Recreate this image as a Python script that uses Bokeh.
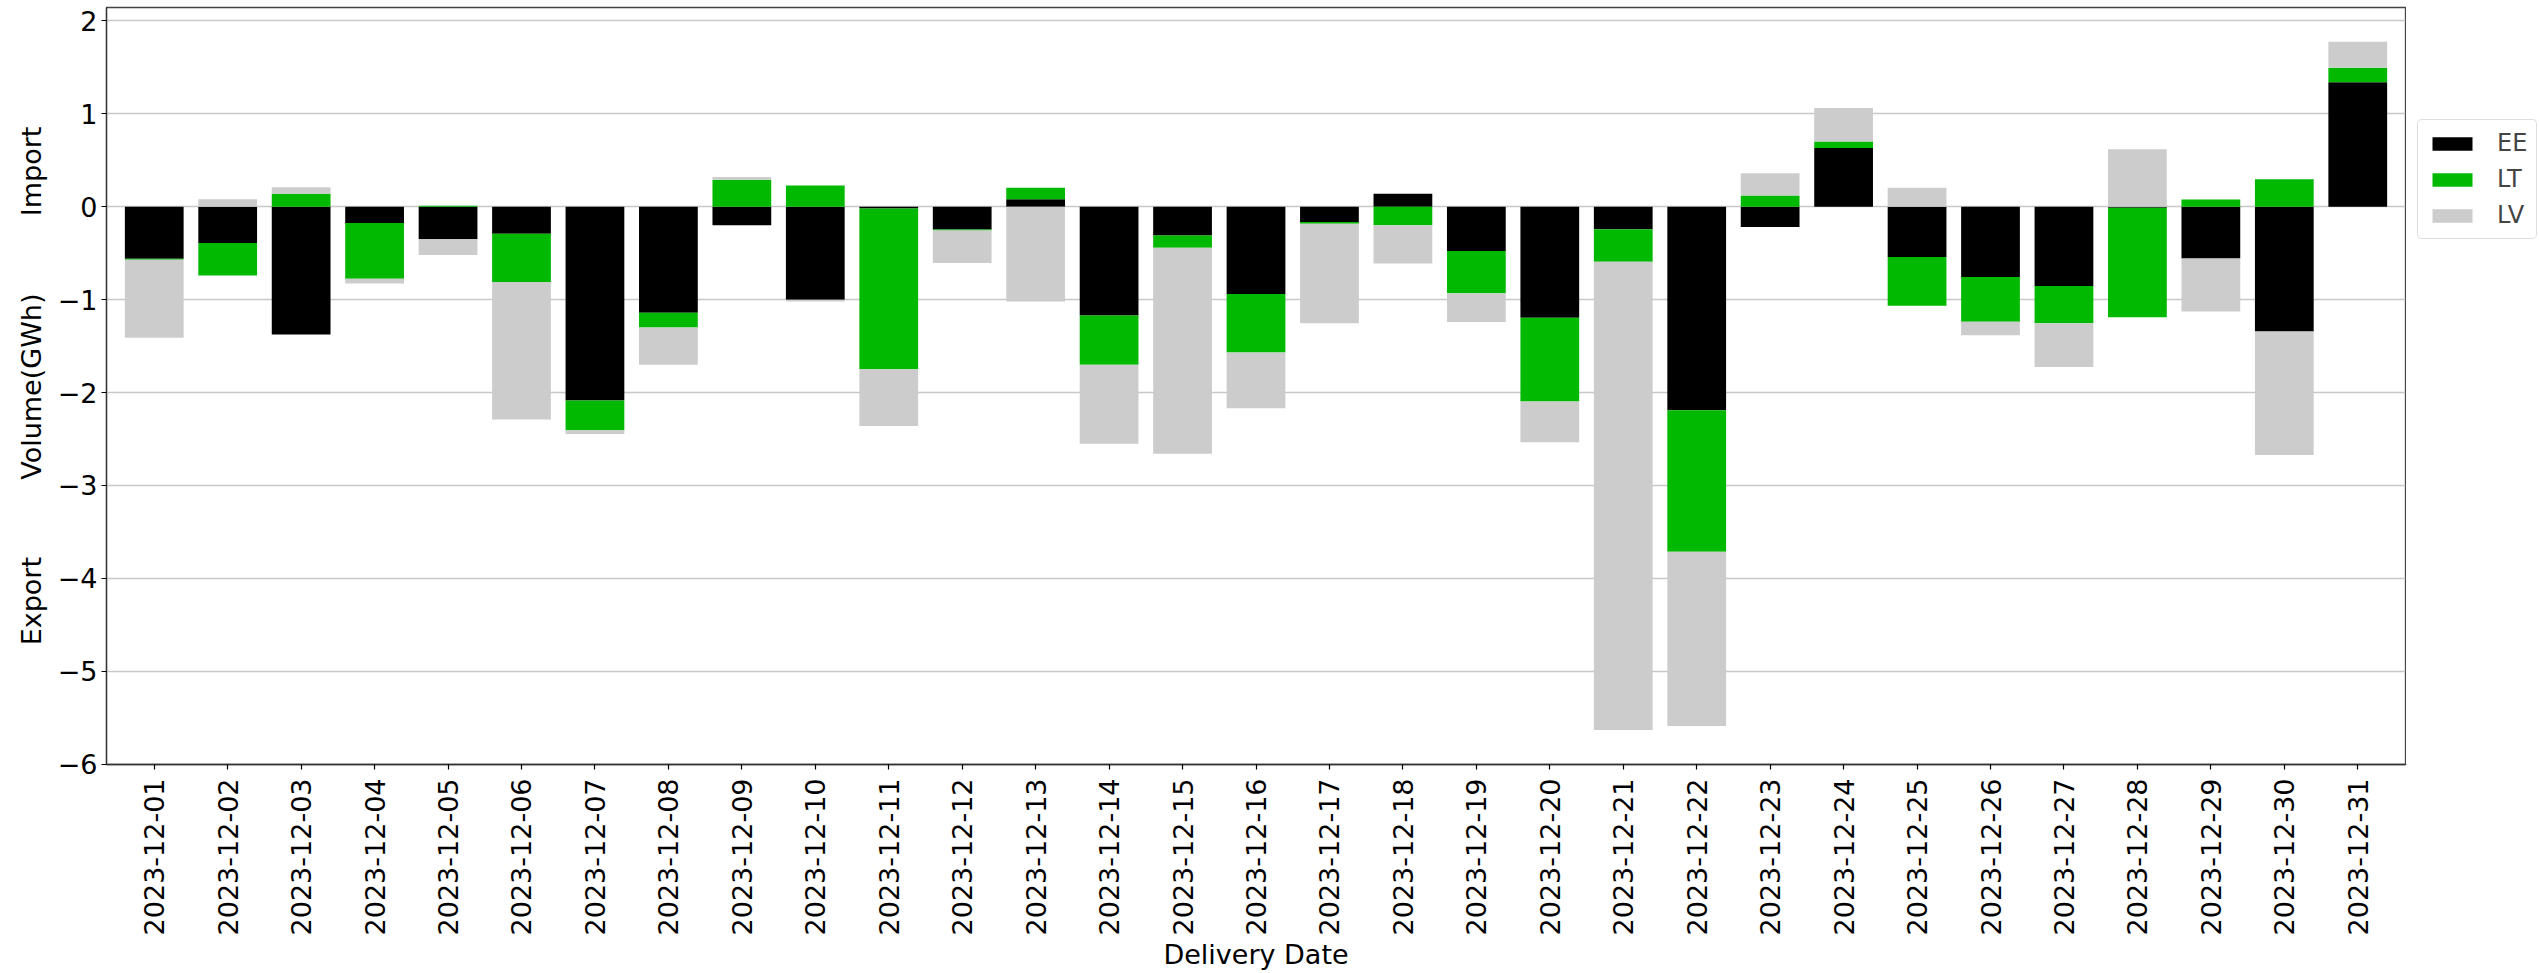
import math
from bokeh.plotting import figure
from bokeh.layouts import row
from bokeh.models import ColumnDataSource, FixedTicker, Legend, LegendItem, Range1d
from bokeh.embed import file_html
from bokeh.resources import INLINE

dates = ["2023-12-%02d" % d for d in range(1, 32)]
series_names = ["EE", "LT", "LV"]
series_colors = ["#000000", "#00b900", "#cccccc"]

ee = [-0.56, -0.39, -1.375, -0.175, -0.35, -0.29, -2.086, -1.14, -0.20, -1.00,
      -0.02, -0.246, 0.08, -1.17, -0.31, -0.94, -0.164, 0.14, -0.475, -1.196,
      -0.243, -2.19, -0.218, 0.632, -0.54, -0.757, -0.854, -0.01, -0.557, -1.343, 1.339]
lt = [-0.01, -0.35, 0.14, -0.60, 0.01, -0.52, -0.32, -0.16, 0.29, 0.23,
      -1.73, -0.01, 0.125, -0.53, -0.13, -0.63, -0.02, -0.20, -0.455, -0.90,
      -0.35, -1.525, 0.12, 0.07, -0.525, -0.48, -0.40, -1.18, 0.079, 0.296, 0.157]
lv = [-0.84, 0.08, 0.07, -0.05, -0.17, -1.48, -0.04, -0.40, 0.03, -0.02,
      -0.61, -0.35, -1.02, -0.85, -2.22, -0.60, -1.07, -0.41, -0.31, -0.44,
      -5.04, -1.875, 0.24, 0.36, 0.204, -0.146, -0.47, 0.618, -0.57, -1.33, 0.28]

y_ticks = [-6, -5, -4, -3, -2, -1, 0, 1, 2]
y_title_parts = ["Export", "Volume(GWh)", "Import"]
x_title = "Delivery Date"

FONT = "DejaVu Sans"
n = len(dates)
xs = list(range(n))

TOTAL_W, TOTAL_H = 2539, 973
MAIN_W = 2406

p = figure(width=MAIN_W, height=TOTAL_H, output_backend="svg", toolbar_location=None,
           x_range=Range1d(-0.65, 30.65), y_range=Range1d(-6.004, 2.145),
           min_border_left=106, min_border_right=1, min_border_top=7,
           min_border_bottom=205)
p.background_fill_color = "white"
p.border_fill_color = "white"
p.outline_line_color = "#444444"
p.outline_line_width = 1.3

p.xgrid.visible = False
p.ygrid.grid_line_color = "#c8c8c8"
p.ygrid.grid_line_width = 1.5
p.ygrid.ticker = FixedTicker(ticks=y_ticks)

# legend panel to the right of the plot frame (its copies of the bars lie outside its view)
pl = figure(width=TOTAL_W - MAIN_W, height=TOTAL_H, output_backend="svg",
            toolbar_location=None, x_axis_location=None, y_axis_location=None,
            x_range=Range1d(1000, 1001), y_range=Range1d(1000, 1001),
            min_border=0, min_border_left=0, min_border_right=0,
            min_border_top=0, min_border_bottom=0)
pl.outline_line_color = None
pl.grid.visible = False
pl.background_fill_color = "white"
pl.border_fill_color = "white"

pos = [0.0] * n
neg = [0.0] * n
items = []
for name, vals, col in zip(series_names, [ee, lt, lv], series_colors):
    bottoms, tops = [], []
    for i, v in enumerate(vals):
        if v >= 0:
            bottoms.append(pos[i]); pos[i] += v; tops.append(pos[i])
        else:
            bottoms.append(neg[i]); neg[i] += v; tops.append(neg[i])
    src = ColumnDataSource(dict(x=xs, bottom=bottoms, top=tops))
    p.vbar(x="x", width=0.8, bottom="bottom", top="top", source=src,
           fill_color=col, line_color=None)
    rl = pl.vbar(x="x", width=0.8, bottom="bottom", top="top", source=src,
                 fill_color=col, line_color=None)
    items.append(LegendItem(label=name, renderers=[rl]))

# axes
p.xaxis.ticker = FixedTicker(ticks=xs)
p.xaxis.major_label_overrides = {i: d for i, d in enumerate(dates)}
p.xaxis.major_label_orientation = math.pi / 2
p.yaxis.ticker = FixedTicker(ticks=y_ticks)
p.yaxis.major_label_overrides = {t: ("\u2212%d" % abs(t) if t < 0 else str(t)) for t in y_ticks}
for ax in (p.xaxis[0], p.yaxis[0]):
    ax.major_label_text_font = FONT
    ax.major_label_text_font_size = "27px"
    ax.major_label_text_color = "black"
    ax.minor_tick_line_color = None
    ax.major_tick_in = 0
    ax.major_tick_out = 5
    ax.major_tick_line_color = "black"
    ax.major_tick_line_width = 1.2
    ax.axis_line_color = "#333333"
    ax.axis_line_width = 1.3
    ax.axis_label_text_font = FONT
    ax.axis_label_text_font_size = "27px"
    ax.axis_label_text_font_style = "normal"
    ax.axis_label_text_color = "black"
p.xaxis.major_label_standoff = 9
p.yaxis.major_label_standoff = 4

gap = "\u00a0" * 9
p.yaxis.axis_label = gap.join(y_title_parts)
p.yaxis.axis_label_standoff = 8
p.xaxis.axis_label = x_title
p.xaxis.axis_label_standoff = 1

legend = Legend(items=items, location=(11, TOTAL_H - 448), orientation="vertical")
legend.label_text_font = FONT
legend.label_text_font_size = "24px"
legend.glyph_width = 50
legend.glyph_height = 17
legend.label_standoff = 20
legend.spacing = 8
legend.padding = 9
legend.margin = 0
legend.border_line_color = "#bdbdbd"
legend.border_line_width = 1.2
legend.border_radius = 5
legend.background_fill_color = "white"
legend.background_fill_alpha = 1.0
pl.add_layout(legend)

layout = row(p, pl, spacing=0)
open("out.html", "w").write(file_html(layout, INLINE))
